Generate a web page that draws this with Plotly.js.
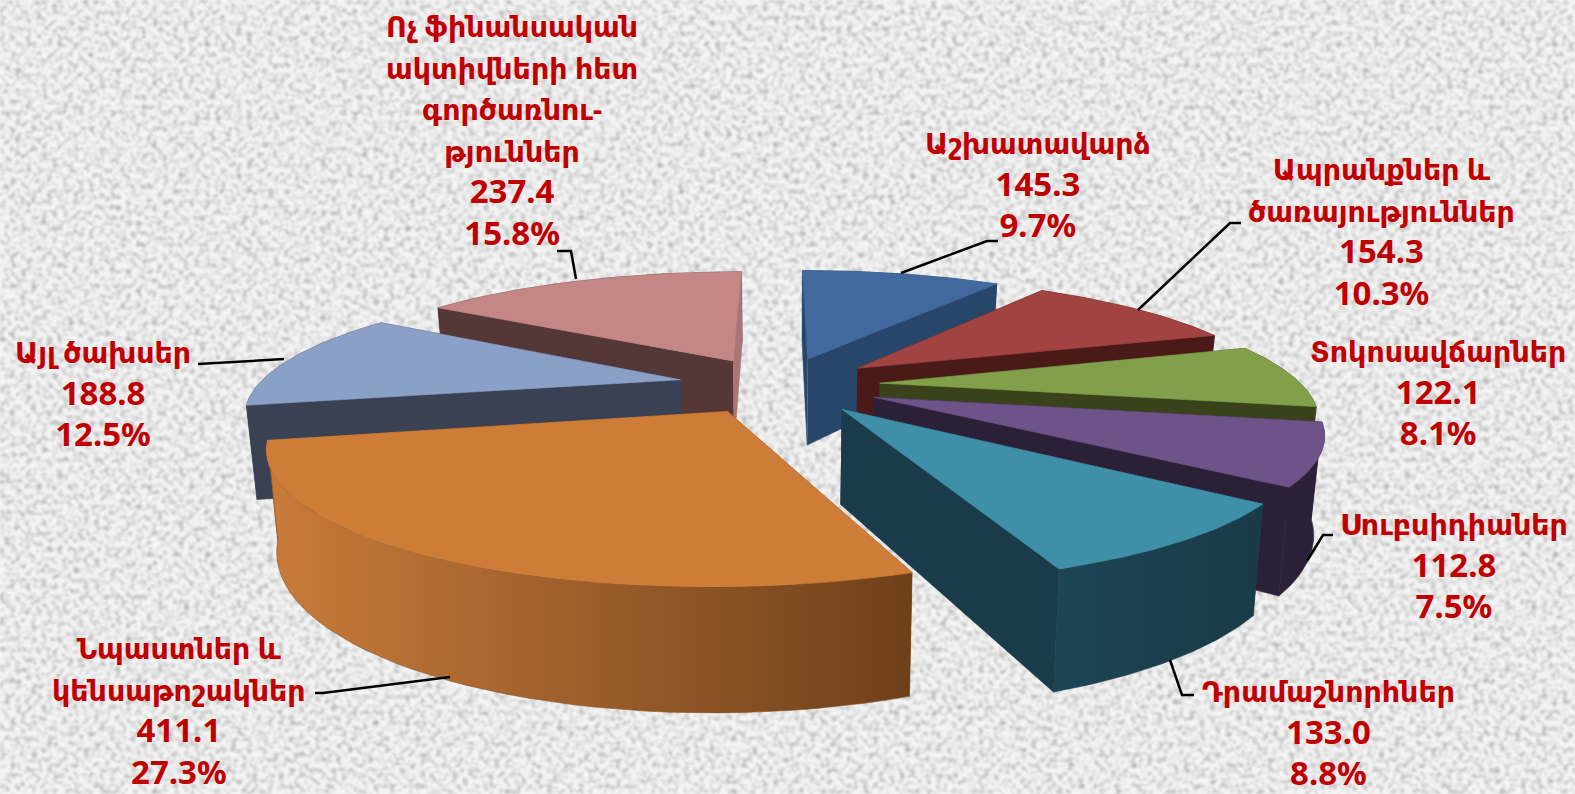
<!DOCTYPE html>
<html><head><meta charset="utf-8">
<script src="https://cdn.plot.ly/plotly-3.0.1.min.js"></script>
<style>
html,body{margin:0;padding:0;width:1575px;height:794px;overflow:hidden;background:#efefef}
#bg{position:absolute;left:0;top:0;width:1575px;height:794px}
#chart{position:absolute;left:0;top:0;width:1575px;height:794px}
</style></head><body>
<svg id="bg" xmlns="http://www.w3.org/2000/svg"><filter id="n" x="0" y="0" width="100%" height="100%">
<feTurbulence type="fractalNoise" baseFrequency="0.19" numOctaves="3" seed="7"/>
<feColorMatrix type="matrix" values="0 0 0 0 0  0 0 0 0 0  0 0 0 0 0  1.9 0 0 0 -0.84"/>
<feGaussianBlur stdDeviation="0.8"/></filter>
<rect width="1575" height="794" fill="#f4f4f4"/><rect width="1575" height="794" filter="url(#n)" opacity="0.36"/></svg>
<div id="chart"></div>
<script>
const categories = ["Աշխատավարձ","Ապրանքներ և<br>ծառայություններ","Տոկոսավճարներ","Սուբսիդիաներ","Դրամաշնորհներ","Նպաստներ և<br>կենսաթոշակներ","Այլ ծախսեր","Ոչ ֆինանսական<br>ակտիվների հետ<br>գործառնու-<br>թյուններ"];
const values = [145.3,154.3,122.1,112.8,133.0,411.1,188.8,237.4];
const valueLabels = ["145.3","154.3","122.1","112.8","133.0","411.1","188.8","237.4"];
const percentLabels = ["9.7%","10.3%","8.1%","7.5%","8.8%","27.3%","12.5%","15.8%"];
const topColors = ["#41699D","#A04341","#82A04A","#6D5387","#3F8FA8","#CD7D37","#8AA0C6","#C48786"];
const wallColors = ["#28466A","#491A17","#3A421B","#2C2038","#1A3C4A","#8A5226","#3A4153","#543838"];
const endWallColors = ["#28466A","#491A17","#3A421B","#2C2038","#1A3C4A","#8A5226","#3A4153","#A97575"];
const gradLeft  = [null,null,null,null,"#1D4556","#C97B3A",null,null];
const gradRight = [null,null,null,null,"#1A3A47","#6E401A",null,null];
const labelX = [1038,1381,1438,1454,1328,179,103,512];
const labelY = [185,232,393,566,733,711,394,131];
const leaders = [
 [[901,273],[987,241],[998,241]],
 [[1138,310],[1230,223],[1241,223]],
 [],
 [[1307,561],[1323,535],[1333,535]],
 [[1170,660],[1182,695],[1194,695]],
 [[450,677],[323,693],[315,693]],
 [[284,359],[198,364]],
 [[557,251],[571,251],[576,279]]
];

// projection of the tilted disc
const CX=779, CY=385, D=4.3, F=1815, G=515, H=390, EXPLODE=0.24;
function proj(x,y,z){
  const s=1/(D+y);
  return [CX+F*x*s*(1-0.02*z), CY-G*y*s+z*H*s];
}
const total=values.reduce((a,b)=>a+b,0);
const traces=[]; let acc=0;
const slices=values.map((v,i)=>{const a0=acc/total*2*Math.PI; acc+=v; const a1=acc/total*2*Math.PI; return {i,a0,a1};});
function poly(pts,color,name,i,grad){
  const t={type:'scatter',mode:'lines',x:pts.map(p=>p[0]),y:pts.map(p=>p[1]),fill:'toself',fillcolor:color,
    line:{width:0.6,color:color},hoverinfo:'skip',showlegend:false,name:name};
  if(grad) t.fillgradient={type:'horizontal',colorscale:[[0,grad[0]],[1,grad[1]]]};
  return t;
}
function addSlice(s){
  const {i,a0,a1}=s, mid=(a0+a1)/2;
  const ax=EXPLODE*Math.sin(mid), ay=EXPLODE*Math.cos(mid);
  const arc=[]; const n=40;
  for(let k=0;k<=n;k++){const a=a0+(a1-a0)*k/n; arc.push([ax+Math.sin(a),ay+Math.cos(a)]);}
  const apex=[ax,ay];
  const name=categories[i].replace(/<br>/g,' ');
  const wall=(pl)=>[...pl.map(p=>proj(p[0],p[1],0)),...pl.slice().reverse().map(p=>proj(p[0],p[1],1))];
  const walls=[
    {y:(apex[1]+arc[0][1])/2, pts:wall([apex,arc[0]]), c:wallColors[i]},
    {y:(apex[1]+arc[n][1])/2, pts:wall([apex,arc[n]]), c:endWallColors[i]},
    {y:arc.reduce((a,p)=>a+p[1],0)/arc.length, pts:wall(arc), c:wallColors[i], g:gradLeft[i]?[gradLeft[i],gradRight[i]]:null}
  ].sort((p,q)=>q.y-p.y);
  walls.forEach(w=>traces.push(poly(w.pts,w.c,name,i,w.g)));
  traces.push(poly([apex,...arc,apex].map(p=>proj(p[0],p[1],0)),topColors[i],name,i));
}
// far slices are painted first
[0,7,1,6,2,3,4,5].forEach(k=>addSlice(slices[k]));

const small=t=>'<span style="font-size:28.5px">'+t+'</span>';
const big=t=>'<span style="font-size:33px">'+t+'</span>';
const annotations=categories.map((c,i)=>({xref:'x',yref:'y',x:labelX[i],y:labelY[i],xanchor:'center',yanchor:'middle',align:'center',showarrow:false,
  text:'<b>'+c.split('<br>').map(small).join('<br>')+'<br>'+big(valueLabels[i])+'<br>'+big(percentLabels[i])+'</b>',
  font:{family:'"Noto Sans","DejaVu Sans",sans-serif',size:32,color:'#C00000'}}));
const shapes=leaders.filter(l=>l.length).map(l=>({type:'path',xref:'x',yref:'y',
  path:'M'+l.map(p=>p[0]+','+p[1]).join(' L'),line:{color:'#000',width:2.5},fillcolor:'rgba(0,0,0,0)'}));

Plotly.newPlot('chart',traces,{
  width:1575,height:794,margin:{l:0,r:0,t:0,b:0},paper_bgcolor:'rgba(0,0,0,0)',plot_bgcolor:'rgba(0,0,0,0)',showlegend:false,
  xaxis:{range:[0,1575],visible:false,fixedrange:true},
  yaxis:{range:[794,0],visible:false,fixedrange:true},
  annotations,shapes
},{displayModeBar:false,staticPlot:true});
</script></body></html>
